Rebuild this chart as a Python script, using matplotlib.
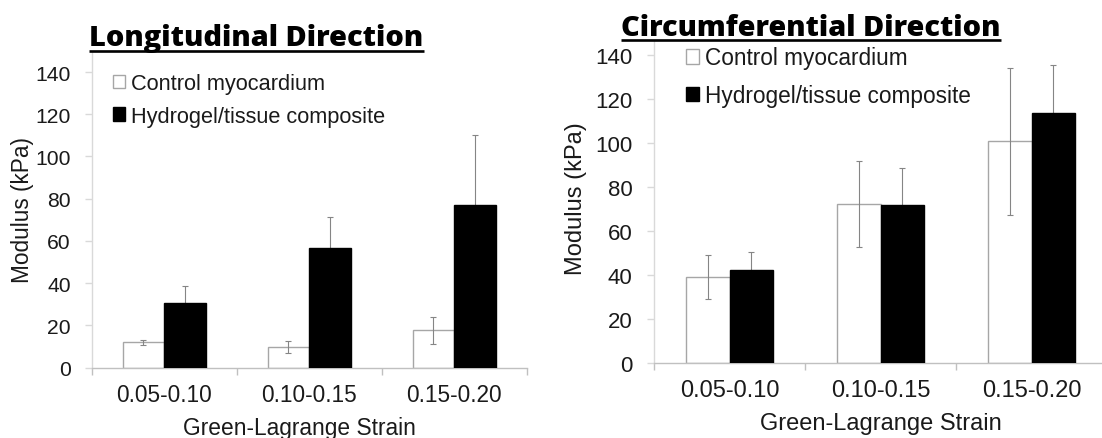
import matplotlib
matplotlib.use('Agg')
import matplotlib.pyplot as plt
from matplotlib.patches import Patch
from matplotlib.lines import Line2D
from matplotlib.ticker import FixedLocator
import numpy as np

# ---------------- data ----------------
categories = ['0.05-0.10', '0.10-0.15', '0.15-0.20']
series_names = ['Control myocardium', 'Hydrogel/tissue composite']

long_control = [11.9, 9.8, 17.6]
long_control_err = [1.3, 2.8, 6.3]
long_hydrogel = [30.6, 56.6, 76.9]
long_hydrogel_err = [7.9, 14.5, 33.1]

circ_control = [39.4, 72.4, 100.9]
circ_control_err = [10.0, 19.4, 33.5]
circ_hydrogel = [42.5, 72.0, 113.9]
circ_hydrogel_err = [8.1, 16.6, 21.6]

yticks = [0, 20, 40, 60, 80, 100, 120, 140]
titles = ['Longitudinal Direction', 'Circumferential Direction']
xlabel_text = 'Green-Lagrange Strain'
ylabel_text = 'Modulus (kPa)'

# ---------------- style ----------------
W, H = 1102, 439
plt.rcParams['font.family'] = ['Liberation Sans', 'DejaVu Sans']
fig = plt.figure(figsize=(W / 100, H / 100), dpi=100)
TXT = '#1a1a1a'
SPINE_L = '#d9d9d9'
SPINE_B = '#c0c0c0'
ERR = '#858585'
EDGE = '#a6a6a6'


def px_rect(x0, x1, ytop, ybot):
    return [x0 / W, 1 - ybot / H, (x1 - x0) / W, (ybot - ytop) / H]


def panel(rect, ymax, control, control_err, hydro, hydro_err, width, fs,
          leg_anchor, leg_spacing, ypad, xpad):
    ax = fig.add_axes(rect)
    x = np.arange(len(categories))
    ax.bar(x - width / 2, control, width, color='white', edgecolor=EDGE,
           linewidth=1.0, zorder=2)
    ax.errorbar(x - width / 2, control, yerr=control_err, fmt='none',
                ecolor=ERR, elinewidth=0.8, capsize=2.2, capthick=0.8, zorder=3)
    ax.errorbar(x + width / 2, hydro, yerr=hydro_err, fmt='none',
                ecolor=ERR, elinewidth=0.8, capsize=2.2, capthick=0.8, zorder=3.5)
    ax.bar(x + width / 2, hydro, width, color='black', edgecolor='black',
           linewidth=1.0, zorder=4)
    ax.set_xlim(-0.5, len(categories) - 0.5)
    ax.set_ylim(0, ymax)
    ax.set_yticks(yticks)
    ax.set_xticks(x)
    ax.set_xticklabels(categories)
    ax.xaxis.set_minor_locator(FixedLocator(np.arange(len(categories) + 1) - 0.5))
    for s in ('top', 'right'):
        ax.spines[s].set_visible(False)
    ax.spines['left'].set_color(SPINE_L)
    ax.spines['bottom'].set_color(SPINE_B)
    ax.spines['left'].set_linewidth(1.0)
    ax.spines['bottom'].set_linewidth(1.0)
    ax.tick_params(axis='y', which='major', direction='out', length=4.8,
                   width=1.0, color=SPINE_L, labelsize=fs['ytick'],
                   labelcolor=TXT, pad=ypad)
    ax.tick_params(axis='x', which='major', length=0, labelsize=fs['xtick'],
                   labelcolor=TXT, pad=xpad)
    ax.tick_params(axis='x', which='minor', direction='out', length=4.8,
                   width=1.0, color=SPINE_B)
    handles = [Patch(facecolor='white', edgecolor=EDGE, linewidth=1.0),
               Patch(facecolor='black', edgecolor='black', linewidth=1.0)]
    ax.legend(handles, series_names, loc='upper left',
              bbox_to_anchor=(leg_anchor[0] / W, 1 - leg_anchor[1] / H),
              bbox_transform=fig.transFigure, frameon=False, borderpad=0,
              borderaxespad=0, handlelength=0.58, handleheight=0.58,
              handletextpad=0.25, labelspacing=leg_spacing,
              prop={'size': fs['legend']}, labelcolor=TXT)
    ax.patch.set_alpha(0)
    return ax


fs_left = {'ytick': 15.2, 'xtick': 16.3, 'legend': 15.7}
fs_right = {'ytick': 16.0, 'xtick': 17.0, 'legend': 16.3}

ax1 = panel(px_rect(91.7, 526.7, 53, 368.5), 149.5, long_control,
            long_control_err, long_hydrogel, long_hydrogel_err, 0.286,
            fs_left, (112.7, 74), 0.53, 10.3, 11)
ax2 = panel(px_rect(654, 1107, 42, 364.3), 146.5, circ_control,
            circ_control_err, circ_hydrogel, circ_hydrogel_err, 0.289,
            fs_right, (686, 47.5), 0.64, 10.8, 11.5)

# axis labels
fig.text(299 / W, 1 - 435 / H, xlabel_text, ha='center', va='baseline',
         fontsize=16.4, color=TXT)
fig.text(880.5 / W, 1 - 430 / H, xlabel_text, ha='center', va='baseline',
         fontsize=17.0, color=TXT)
fig.text(23 / W, 1 - 210 / H, ylabel_text, ha='center', va='center',
         rotation=90, fontsize=16.3, color=TXT)
fig.text(576 / W, 1 - 199 / H, ylabel_text, ha='center', va='center',
         rotation=90, fontsize=17.0, color=TXT)


# titles (bold, underlined), fitted to the reference width
def title(text, x0, x1, baseline, underline_y):
    t = fig.text((x0 + x1) / 2 / W, 1 - baseline / H, text, ha='center',
                 va='baseline', fontsize=22, fontweight='heavy',
                 family=['Open Sans', 'DejaVu Sans'], color='black')
    fig.canvas.draw()
    bb = t.get_window_extent(renderer=fig.canvas.get_renderer())
    t.set_fontsize(22 * (x1 - x0) / bb.width)
    fig.add_artist(Line2D([x0 / W, x1 / W],
                          [1 - underline_y / H, 1 - underline_y / H],
                          transform=fig.transFigure, color='black',
                          linewidth=1.9, solid_capstyle='butt'))


title(titles[0], 89, 424, 46, 51.7)
title(titles[1], 621, 1001, 35.7, 40.8)

fig.savefig('out.png', dpi=100)
